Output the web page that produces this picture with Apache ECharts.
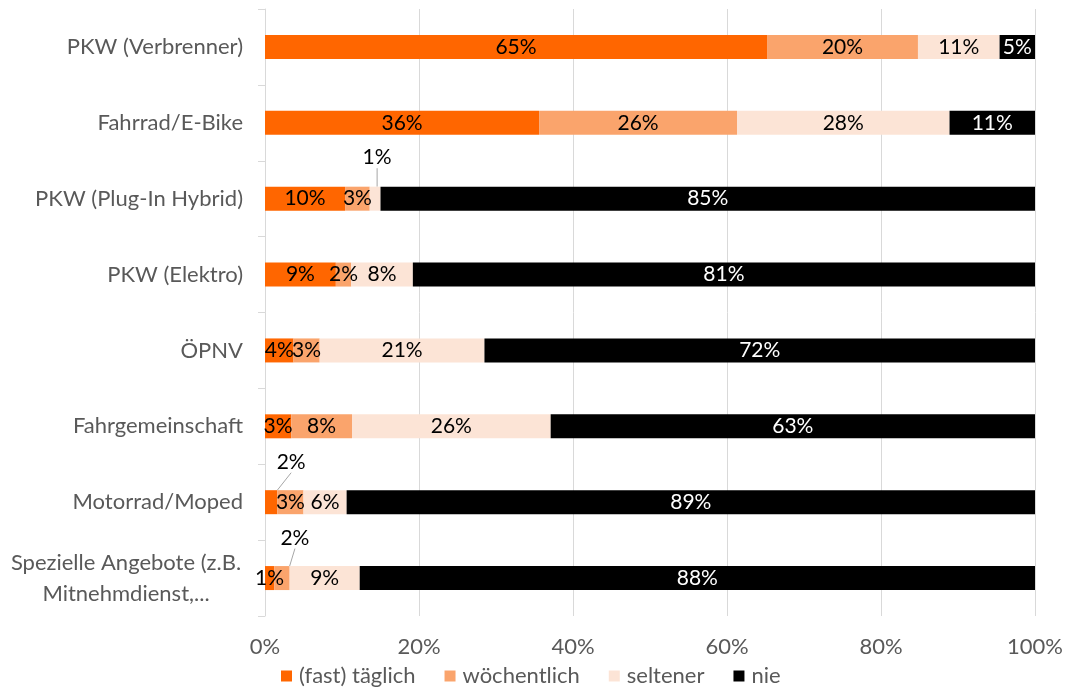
<!DOCTYPE html>
<html><head><meta charset="utf-8">
<script src="https://cdn.jsdelivr.net/npm/echarts@6/dist/echarts.min.js"></script>
<style>html,body{margin:0;padding:0;background:#fff}#c{width:1066px;height:693px}</style>
</head><body><div id="c"></div>
<script>
const categories = ['PKW (Verbrenner)','Fahrrad/E-Bike','PKW (Plug-In Hybrid)','PKW (Elektro)','ÖPNV','Fahrgemeinschaft','Motorrad/Moped','Spezielle Angebote (z.B.\nMitnehmdienst,...'];
const seriesNames = ['(fast) täglich','wöchentlich','seltener','nie'];
const taeglich    = [65.2, 35.6, 10.4, 9.2, 3.7, 3.4, 1.6, 1.2];
const woechentlich= [19.6, 25.7, 3.2, 2.0, 3.4, 7.9, 3.4, 2.0];
const seltener    = [10.6, 27.6, 1.4, 8.0, 21.4, 25.8, 5.6, 9.1];
const nie         = [4.6, 11.1, 85.0, 80.8, 71.5, 62.9, 89.4, 87.7];
const xTicks = [0,20,40,60,80,100];
const colors = ['#FF6600','#FAA46C','#FCE4D6','#000000'];
const FONT = 'Lato';
const FS = 22;
const FSD = 21;

// labels moved outside the bar with leader lines: [seriesIndex, dataIndex, dx, dy]
const moved = [[2,2,2,-41],[0,6,20,-40],[1,7,13,-40]];

const chart = echarts.init(document.getElementById('c'));
const all = [taeglich, woechentlich, seltener, nie];
chart.setOption({
  animation:false,
  textStyle:{fontFamily:FONT},
  grid:{left:265,right:31,top:9,bottom:77,containLabel:false},
  legend:{
    bottom:1,left:276,itemWidth:11,itemHeight:11,itemGap:29,icon:'rect',
    textStyle:{color:'#595959',fontSize:FS,fontFamily:FONT,padding:[0,0,0,2]},
    data:seriesNames
  },
  xAxis:{
    type:'value',min:0,max:100,interval:20,
    axisLabel:{formatter:v=>v+'%',color:'#595959',fontSize:FS,margin:20,fontFamily:FONT},
    splitLine:{lineStyle:{color:'#d9d9d9',width:1}},
    axisLine:{show:false},axisTick:{show:false}
  },
  yAxis:{
    type:'category',inverse:true,data:categories,
    axisLine:{lineStyle:{color:'#d9d9d9'}},
    axisTick:{show:true,length:7,lineStyle:{color:'#d9d9d9'}},
    axisLabel:{
      color:'#595959',fontSize:FS,margin:22,fontFamily:FONT,
      formatter:function(v){
        if(v.indexOf('\n')>=0){
          return v.split('\n').map(s=>'{c|'+s+'}').join('\n');
        }
        return v;
      },
      rich:{c:{width:234,align:'center',color:'#595959',fontSize:FS,fontFamily:FONT,lineHeight:31}}
    }
  },
  series: all.map((arr,si)=>({
    name:seriesNames[si],type:'bar',stack:'s',barWidth:24,
    itemStyle:{color:colors[si]},
    data:arr,
    label:{show:true,position:'inside',color:si===3?'#ffffff':'#000000',fontSize:FSD,fontFamily:FONT,
      formatter:p=>Math.round(p.value)+'%'},
    labelLine:{show:true,lineStyle:{color:'#a6a6a6',width:1}},
    labelLayout:function(p){
      for(const m of moved){
        if(m[0]===si && m[1]===p.dataIndex){
          return {dx:m[2],dy:m[3]};
        }
      }
      return {};
    }
  }))
});
</script></body></html>
